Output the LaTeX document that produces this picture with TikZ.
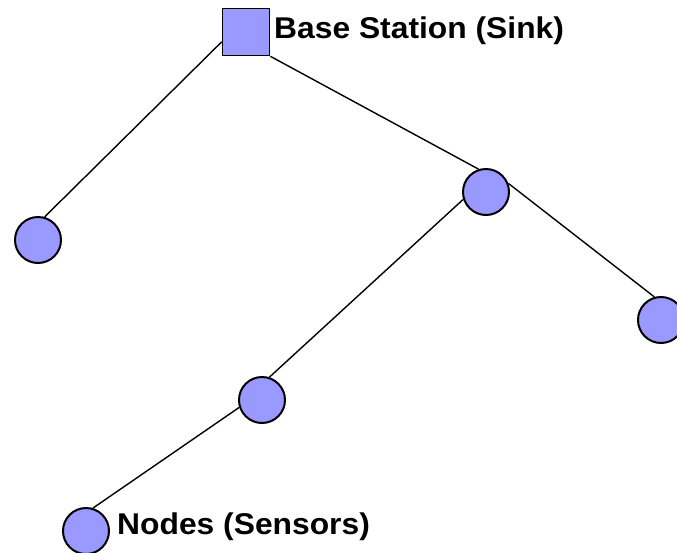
\documentclass[tikz,border=0pt]{standalone}
\usepackage{fontspec}
\setmainfont{Liberation Sans}
\begin{document}
\begin{tikzpicture}[x=1pt,y=-1pt,
  sensor/.style={circle,draw=black,line width=2pt,fill=nodeblue,minimum size=46pt,inner sep=0pt},
  sink/.style={rectangle,draw=black,line width=1.5pt,fill=nodeblue,minimum size=47pt,inner sep=0pt},
  link/.style={draw=black,line width=1.4pt},
  lbl/.style={anchor=base west,inner sep=0pt,font=\fontsize{30}{35}\selectfont\bfseries,xscale=1.06}]
\definecolor{nodeblue}{HTML}{9999FF}
\useasboundingbox (0,0) rectangle (677,552);
\clip (0,0) rectangle (677,552);
\node[sink] (bs) at (246,32) {};
\node[sensor] (c1) at (38,240) {};
\node[sensor] (c2) at (486,192) {};
\node[sensor] (c3) at (661,320) {};
\node[sensor] (c4) at (262,400) {};
\node[sensor] (c5) at (86,531) {};
\path[link] (c1.74) -- (bs.202);
\path[link] (bs.south east) -- (c2.108);
\path[link] (c2.21) -- (c3.106);
\path[link] (c2.198) -- (c4.72);
\path[link] (c4.198) -- (c5.73);
\node[lbl] (t1) at (274,38) {Base Station (Sink)};
\node[lbl] (t2) at (117,534) {Nodes (Sensors)};
\end{tikzpicture}
\end{document}
